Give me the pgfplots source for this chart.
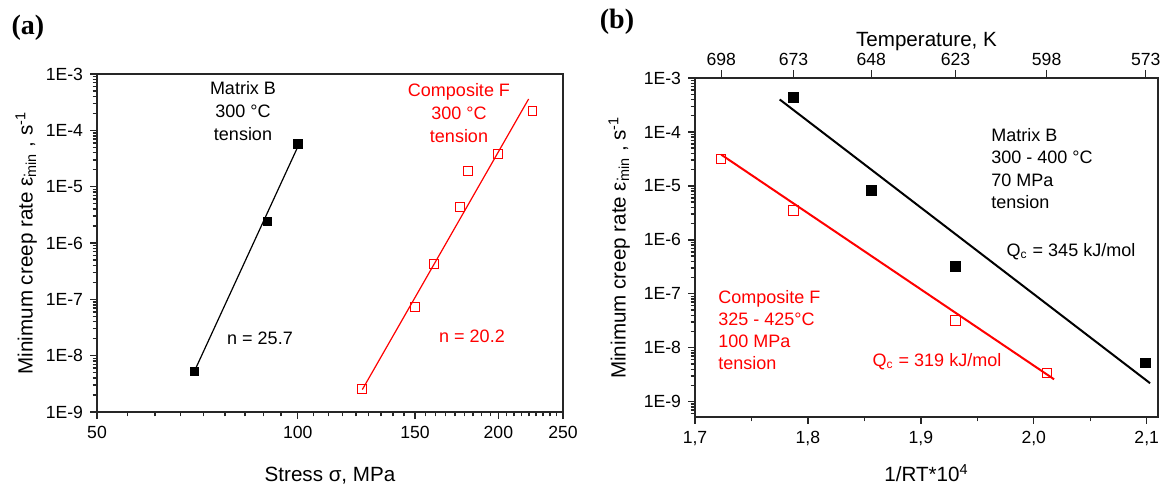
\documentclass[border=0pt]{standalone}
\usepackage{fontspec}
\setmainfont{Liberation Sans}
\newfontfamily\timesfont{Liberation Serif}
\usepackage{pgfplots}
\pgfplotsset{compat=1.18}
\begin{document}
\begin{tikzpicture}[x=1pt,y=1pt]
\useasboundingbox (0,0) rectangle (583.5,241.5);

% ---------- (a) ----------
\begin{axis}[scale only axis, width=233pt, height=169pt, at={(48.5pt,35.5pt)}, anchor=south west,
  axis line style={line width=0.7pt, black!85},
  every tick/.style={black!85, line width=0.7pt},
  tick align=outside, major tick length=3.5pt, minor tick length=2.2pt,
  tick pos=left, clip=false,
  xmode=log, ymode=log, log basis x=10, log basis y=10,
  xmin=50, xmax=250, ymin=1e-9, ymax=1e-3,
  ytick={1e-9,1e-8,1e-7,1e-6,1e-5,1e-4,1e-3},
  yticklabels={1E-9,1E-8,1E-7,1E-6,1E-5,1E-4,1E-3},
  extra y ticks={2e-9,3e-9,4e-9,5e-9,6e-9,7e-9,8e-9,9e-9,
               2e-8,3e-8,4e-8,5e-8,6e-8,7e-8,8e-8,9e-8,
               2e-7,3e-7,4e-7,5e-7,6e-7,7e-7,8e-7,9e-7,
               2e-6,3e-6,4e-6,5e-6,6e-6,7e-6,8e-6,9e-6,
               2e-5,3e-5,4e-5,5e-5,6e-5,7e-5,8e-5,9e-5,
               2e-4,3e-4,4e-4,5e-4,6e-4,7e-4,8e-4,9e-4},
  extra y tick labels={},
  extra y tick style={major tick length=2.2pt},
  xtick={50,100,150,200,250}, xticklabels={50,100,150,200,250},
  minor xtick={55.556,61.111,66.667,72.222,77.778,83.333,88.889,94.444,
               105.556,111.111,116.667,122.222,127.778,133.333,138.889,144.444,
               155.556,161.111,166.667,172.222,177.778,183.333,188.889,194.444,
               205.556,211.111,216.667,222.222,227.778,233.333,238.889,244.444},
  tick label style={font=\fontsize{8.8}{10}\selectfont},
  xlabel={Stress σ, MPa},
  ylabel={Minimum creep rate ε\rlap{\textsuperscript{.}}\textsubscript{min} , s\textsuperscript{-1}},
  xlabel style={font=\fontsize{10.3}{12}\selectfont, at={(axis description cs:0.5,-0.189)}, anchor=center},
  ylabel style={font=\fontsize{10.3}{12}\selectfont, at={(axis description cs:-0.152,0.5)}, anchor=center},
]
\addplot[black, line width=0.6pt] coordinates {(70,5.3e-9) (100,5.07e-5)};
\addplot[only marks, mark=square*, mark size=2.1pt, black] coordinates {(70,5.2e-9) (90,2.44e-6) (100,5.7e-5)};
\addplot[red, line width=0.6pt] coordinates {(125,2.5e-9) (222,3.6e-4)};
\addplot[only marks, mark=square, mark size=2.2pt, red, mark options={line width=0.5pt}] coordinates {(125,2.6e-9) (150,7.4e-8) (160,4.2e-7) (175,4.4e-6) (180,1.9e-5) (200,3.8e-5) (225,2.2e-4)};
\end{axis}

% ---------- (b) ----------
\begin{axis}[scale only axis, width=231.5pt, height=169.5pt, at={(347.5pt,33pt)}, anchor=south west,
  axis line style={line width=0.7pt, black!85},
  every tick/.style={black!85, line width=0.7pt},
  tick align=outside, major tick length=3.5pt, minor tick length=2.2pt,
  tick pos=left, clip=false,
  ymode=log, log basis y=10,
  xmin=1.7, xmax=2.11, ymin=5.2e-10, ymax=1e-3,
  ytick={1e-9,1e-8,1e-7,1e-6,1e-5,1e-4,1e-3},
  yticklabels={1E-9,1E-8,1E-7,1E-6,1E-5,1E-4,1E-3},
  extra y ticks={6e-10,7e-10,8e-10,9e-10,
               2e-9,3e-9,4e-9,5e-9,6e-9,7e-9,8e-9,9e-9,
               2e-8,3e-8,4e-8,5e-8,6e-8,7e-8,8e-8,9e-8,
               2e-7,3e-7,4e-7,5e-7,6e-7,7e-7,8e-7,9e-7,
               2e-6,3e-6,4e-6,5e-6,6e-6,7e-6,8e-6,9e-6,
               2e-5,3e-5,4e-5,5e-5,6e-5,7e-5,8e-5,9e-5,
               2e-4,3e-4,4e-4,5e-4,6e-4,7e-4,8e-4,9e-4},
  extra y tick labels={},
  extra y tick style={major tick length=2.2pt},
  xtick={1.7,1.8,1.9,2.0,2.1}, xticklabels={{1,7},{1,8},{1,9},{2,0},{2,1}},
  minor xtick={1.75,1.85,1.95,2.05},
  tick label style={font=\fontsize{8.8}{10}\selectfont},
  xlabel={1/RT*10\textsuperscript{4}},
  ylabel={Minimum creep rate ε\rlap{\textsuperscript{.}}\textsubscript{min} , s\textsuperscript{-1}},
  xlabel style={font=\fontsize{10.3}{12}\selectfont, at={(axis description cs:0.5,-0.165)}, anchor=center},
  ylabel style={font=\fontsize{10.3}{12}\selectfont, at={(axis description cs:-0.164,0.5)}, anchor=center},
]
\addplot[black, line width=1pt] coordinates {(1.775,4.0e-4) (2.103,2.2e-9)};
\addplot[only marks, mark=square*, mark size=2.4pt, black] coordinates {(1.7873,4.4e-4) (1.8562,8.3e-6) (1.9307,3.2e-7) (2.0991,5.2e-9)};
\addplot[red, line width=1pt] coordinates {(1.7232,3.8e-5) (2.018,2.6e-9)};
\addplot[only marks, mark=square, mark size=2.3pt, red, mark options={line width=0.5pt}] coordinates {(1.7232,3.2e-5) (1.7873,3.5e-6) (1.9307,3.2e-8) (2.0114,3.4e-9)};
\end{axis}

\begin{axis}[scale only axis, width=231.5pt, height=169.5pt, at={(347.5pt,33pt)}, anchor=south west,
  xmin=1.7, xmax=2.11, ymin=0, ymax=1,
  axis x line*=top, axis y line=none,
  axis line style={line width=0.7pt, black!85},
  every tick/.style={black!85, line width=0.7pt},
  tick align=outside, major tick length=4pt,
  xtick={1.72320,1.78721,1.85616,1.93065,2.01136,2.09911},
  xticklabels={698,673,648,623,598,573},
  tick label style={font=\fontsize{8.8}{10}\selectfont, yshift=-1.5pt},
  xlabel={Temperature, K},
  xlabel style={font=\fontsize{10.3}{12}\selectfont, at={(axis description cs:0.5,1.108)}, anchor=center},
]
\end{axis}

% ---------- annotations ----------
\node[align=center, font=\fontsize{9}{11.5}\selectfont] at (121.5,186) {Matrix B\\300 °C\\tension};
\node[font=\fontsize{9}{11}\selectfont] at (130,72.5) {n = 25.7};
\node[align=center, text=red, font=\fontsize{9}{11.5}\selectfont] at (229.5,184.75) {Composite F\\300 °C\\tension};
\node[text=red, font=\fontsize{9}{11}\selectfont] at (236,73.5) {n = 20.2};

\node[align=left, anchor=west, inner sep=0pt, font=\fontsize{9}{11.2}\selectfont] at (495.5,157.25) {Matrix B\\300 - 400 °C\\70 MPa\\tension};
\node[font=\fontsize{9}{11}\selectfont] at (535.5,115.5) {Q\textsubscript{c} = 345 kJ/mol};
\node[align=left, anchor=west, inner sep=0pt, text=red, font=\fontsize{9}{11}\selectfont] at (359,76.25) {Composite F\\325 - 425°C\\100 MPa\\tension};
\node[text=red, font=\fontsize{9}{11}\selectfont] at (468.5,60.5) {Q\textsubscript{c} = 319 kJ/mol};

\node[font=\timesfont\bfseries\fontsize{14}{16}\selectfont] at (14,227.5) {(a)};
\node[font=\timesfont\bfseries\fontsize{14}{16}\selectfont] at (308.5,230.5) {(b)};
\end{tikzpicture}
\end{document}
